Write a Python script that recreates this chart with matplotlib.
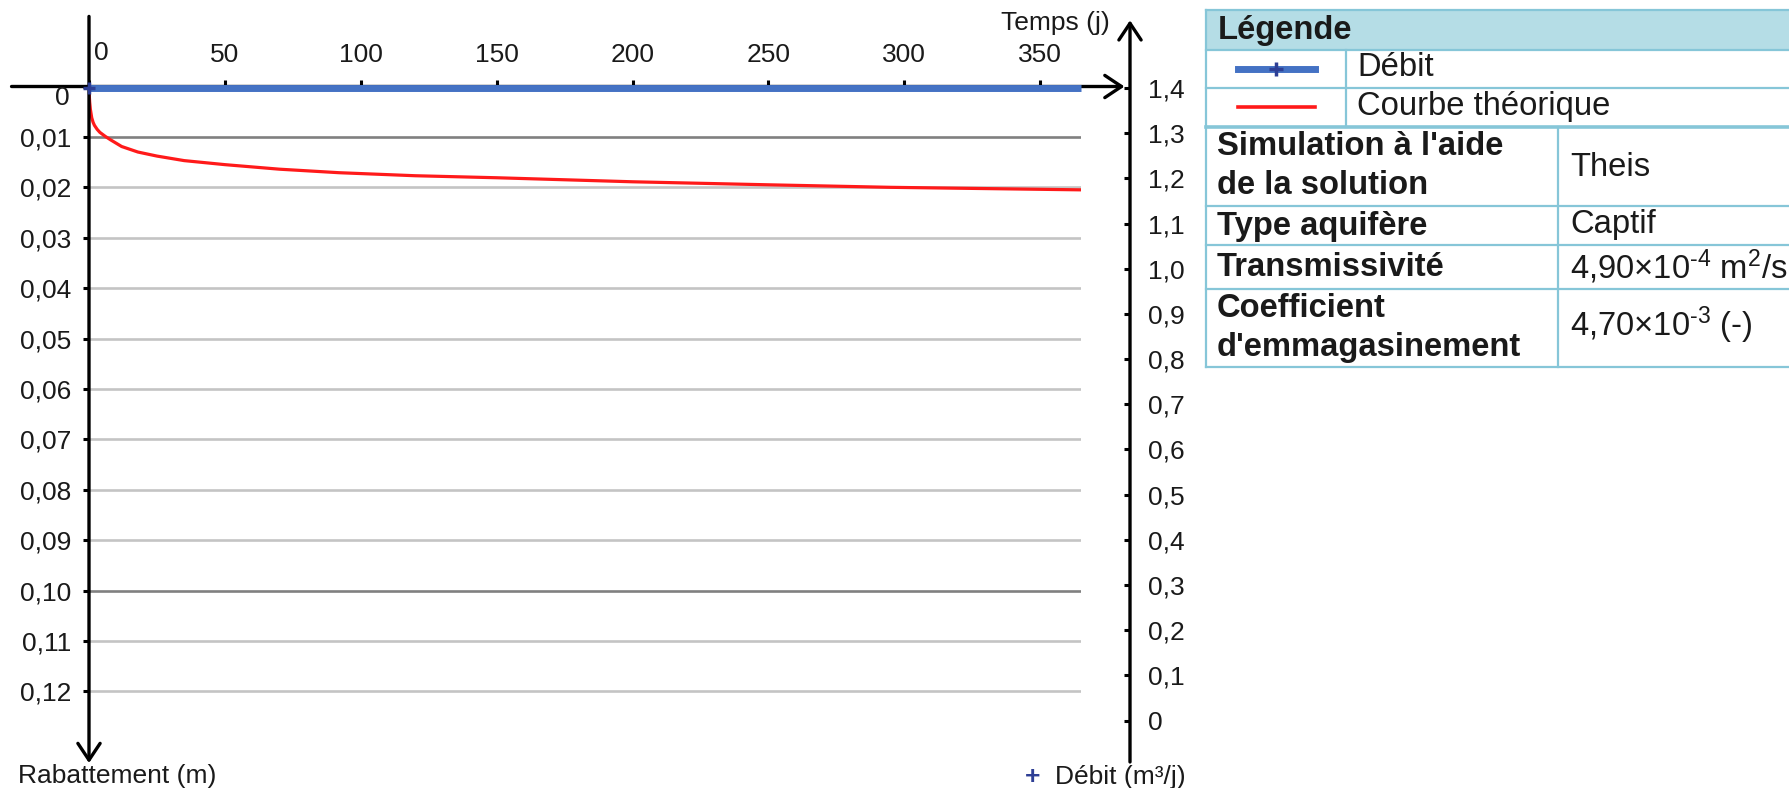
import matplotlib
matplotlib.use('Agg')
import matplotlib.pyplot as plt
from matplotlib.lines import Line2D
from matplotlib.patches import Rectangle

plt.rcParams['font.family'] = ['Liberation Sans', 'DejaVu Sans']
plt.rcParams['mathtext.fontset'] = 'custom'
plt.rcParams['mathtext.rm'] = 'Liberation Sans'
plt.rcParams['mathtext.it'] = 'Liberation Sans:italic'
plt.rcParams['mathtext.bf'] = 'Liberation Sans:bold'
plt.rcParams['mathtext.default'] = 'regular'

# Theoretical drawdown (Theis) - time in days, drawdown in metres
temps = [0, 0.1, 0.25, 0.5, 1, 1.5, 2, 3, 4, 6, 8, 12, 18, 25, 35, 50, 70, 92, 120, 150,
         200, 225, 250, 295, 365]
rabattement = [0, 0.0018, 0.0031, 0.0045, 0.0062, 0.0071, 0.0077, 0.0085, 0.0091, 0.0099,
               0.0106, 0.0119, 0.0130, 0.0138, 0.0147, 0.0155, 0.0164, 0.0171, 0.0177,
               0.0181, 0.0189, 0.0192, 0.0195, 0.0200, 0.0205]

# Pumping rate (m3/j)
debit_temps = [0, 365]
debit = [1.4, 1.4]

x_ticks = [0, 50, 100, 150, 200, 250, 300, 350]
x_labels = ['', '50', '100', '150', '200', '250', '300', '350']
y_ticks = [0, 0.01, 0.02, 0.03, 0.04, 0.05, 0.06, 0.07, 0.08, 0.09, 0.10, 0.11, 0.12]
y_labels = ['', '0,01', '0,02', '0,03', '0,04', '0,05', '0,06', '0,07', '0,08', '0,09',
            '0,10', '0,11', '0,12']
q_ticks = [0, 0.1, 0.2, 0.3, 0.4, 0.5, 0.6, 0.7, 0.8, 0.9, 1.0, 1.1, 1.2, 1.3, 1.4]
q_labels = ['0', '0,1', '0,2', '0,3', '0,4', '0,5', '0,6', '0,7', '0,8', '0,9',
            '1,0', '1,1', '1,2', '1,3', '1,4']

W, H = 1789, 788
FS = 19
TFS = 23.6
TXT = '#1a1a1a'
fig = plt.figure(figsize=(W / 100, H / 100), dpi=100)


def px_box(x0, y0, x1, y1):
    return [x0 / W, 1 - y1 / H, (x1 - x0) / W, (y1 - y0) / H]


arrow = dict(arrowstyle='->,head_length=0.6,head_width=0.4', lw=2.4, color='black',
             mutation_scale=20, shrinkA=0, shrinkB=0)

# main axes: drawdown, origin at top-left, depth increasing downwards
ax = fig.add_axes(px_box(89, 86.5, 1081, 758))
ax.set_xlim(0, 365)
ax.set_ylim(0.1332, 0)
for s in ax.spines.values():
    s.set_visible(False)

grid_vals = y_ticks[1:]
grid_cols = ['#808080' if v in (0.01, 0.10) else '#c4c4c4' for v in grid_vals]
ax.hlines(grid_vals, 0, 365, colors=grid_cols, lw=1.9, zorder=1)

ax.plot(temps, rabattement, color='#ff1a1a', lw=2.3, zorder=3, solid_joinstyle='round')

ax.annotate('', xy=(381, 0), xytext=(-28.5, 0), arrowprops=arrow, annotation_clip=False)
ax.annotate('', xy=(0, 0.1342), xytext=(0, -0.0139), arrowprops=arrow, annotation_clip=False)

ax.xaxis.set_ticks_position('top')
ax.set_xticks(x_ticks, x_labels)
ax.tick_params(axis='x', direction='out', length=5, width=2.2, pad=9, labelsize=FS,
               labelcolor=TXT)
ax.set_yticks(y_ticks, y_labels)
ax.tick_params(axis='y', direction='out', length=4, width=2.2, pad=9, labelsize=FS,
               labelcolor=TXT)

# secondary axis: pumping rate
q_top = 1.4 + 1.5 / 453.9
q_bot = 1.4 - (758 - 85) / 453.9
ax2 = ax.twinx()
ax2.set_ylim(q_bot, q_top)
for s in ax2.spines.values():
    s.set_visible(False)
xr = (1130 - 89) / 992
ax2.spines['right'].set_position(('axes', xr))
ax2.set_yticks(q_ticks, q_labels)
ax2.tick_params(axis='y', direction='in', length=4, width=2.2, pad=13, labelsize=FS,
                labelcolor=TXT)
tr = ax2.get_yaxis_transform()
ax2.annotate('', xy=(xr, 1.4 - (17 - 85) / 453.9), xycoords=tr,
             xytext=(xr, 1.4 - (762 - 85) / 453.9), textcoords=tr,
             arrowprops=arrow, annotation_clip=False)

ax2.plot(debit_temps, debit, color='#4472c4', lw=5, solid_capstyle='butt', zorder=3,
         clip_on=False)
ax2.plot(debit_temps[:1], debit[:1], marker='+', color='#2e3f95', ms=8, mew=2.5,
         clip_on=False, zorder=4)

# overlay in pixel units for free text and the info table
ov = fig.add_axes([0, 0, 1, 1])
ov.set_xlim(0, W)
ov.set_ylim(H, 0)
ov.axis('off')

ov.text(101.5, 53, '0', ha='center', va='center', fontsize=FS, color=TXT)
ov.text(70, 98, '0', ha='right', va='center', fontsize=FS, color=TXT)
ov.text(1055, 23, 'Temps (j)', ha='center', va='center', fontsize=FS, color=TXT)
ov.text(18, 776, 'Rabattement (m)', ha='left', va='center', fontsize=FS, color=TXT)
ov.text(1033, 777, '+', ha='center', va='center', fontsize=FS, color='#2e3f95',
        fontweight='bold')
ov.text(1055, 777, 'Débit (m³/j)', ha='left', va='center', fontsize=FS, color=TXT)

# table
border = '#86c6d8'
tl, tr_ = 1206, 1800
ov.add_patch(Rectangle((tl, 10), tr_ - tl, 40, facecolor='#b5dde6', edgecolor='none'))
for yy, lw in [(10, 1.6), (50, 1.6), (88, 1.6), (127, 2.6), (206, 1.6),
               (245, 1.6), (289, 1.6), (367, 1.6)]:
    ov.add_line(Line2D([tl, tr_], [yy, yy], color=border, lw=lw))
ov.add_line(Line2D([tl, tl], [10, 367], color=border, lw=1.6))
ov.add_line(Line2D([1346, 1346], [50, 127], color=border, lw=1.6))
ov.add_line(Line2D([1558, 1558], [127, 367], color=border, lw=1.6))

ov.text(1218, 30, 'Légende', ha='left', va='center', fontsize=TFS, fontweight='bold',
        color=TXT)
ov.add_line(Line2D([1238, 1315], [69, 69], color='#4472c4', lw=5))
ov.plot([1276], [69], marker='+', color='#2e3f95', ms=10, mew=2.5)
ov.text(1357, 67, 'Débit', ha='left', va='center', fontsize=TFS, color=TXT)
ov.add_line(Line2D([1238, 1315], [107, 107], color='#ff1a1a', lw=2.6))
ov.text(1357, 106, 'Courbe théorique', ha='left', va='center', fontsize=TFS, color=TXT)

rows = [
    ("Simulation à l'aide\nde la solution", 'Theis', 166, 167),
    ('Type aquifère', 'Captif', 226, 224),
    ('Transmissivité', r'4,90×10$^{\text{-4}}$ m$^{2}$/s', 267, 267),
    ("Coefficient\nd'emmagasinement", r'4,70×10$^{\text{-3}}$ (-)', 328, 325),
]
for label, val, yl, yv in rows:
    ov.text(1217, yl, label, ha='left', va='center', fontsize=TFS, fontweight='bold',
            linespacing=1.3, color=TXT)
    ov.text(1570, yv, val, ha='left', va='center', fontsize=TFS, color=TXT)

fig.savefig('out.png', dpi=100)
